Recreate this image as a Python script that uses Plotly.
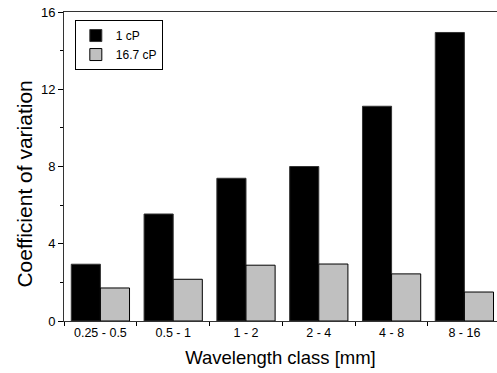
import plotly.graph_objects as go

categories = ["0.25 - 0.5", "0.5 - 1", "1 - 2", "2 - 4", "4 - 8", "8 - 16"]
cv_1cP = [2.94, 5.54, 7.39, 8.0, 11.12, 14.94]
cv_16_7cP = [1.71, 2.16, 2.89, 2.95, 2.44, 1.50]
y_ticks = [0, 4, 8, 12, 16]

FONT = "Liberation Sans, Arial, sans-serif"

fig = go.Figure()
fig.add_trace(go.Bar(
    x=categories, y=cv_1cP, name="1 cP",
    marker=dict(color="#000000", line=dict(color="#333333", width=1)),
))
fig.add_trace(go.Bar(
    x=categories, y=cv_16_7cP, name="16.7 cP",
    marker=dict(color="#c0c0c0", line=dict(color="#000000", width=1)),
))

fig.update_layout(
    width=497, height=373,
    margin=dict(l=64, r=0, t=12, b=52),
    paper_bgcolor="white", plot_bgcolor="white",
    barmode="group", bargap=0.2, bargroupgap=0,
    font=dict(family=FONT, size=12, color="#000"),
    showlegend=True,
    legend=dict(
        x=0.025, y=0.974, xanchor="left", yanchor="top",
        bordercolor="#000", borderwidth=1, bgcolor="white",
        font=dict(family=FONT, size=12, color="#000"),
        tracegroupgap=0, itemwidth=30,
    ),
    annotations=[dict(
        text="Coefficient of variation", textangle=-90,
        xref="paper", yref="paper", x=-0.0912, y=0.443,
        xanchor="center", yanchor="middle", showarrow=False,
        font=dict(family=FONT, size=21, color="#000"),
    )],
)

fig.update_xaxes(
    type="category", range=[-0.5, 5.448],
    tickson="boundaries", ticks="outside", ticklen=4, tickcolor="#000",
    showline=True, linecolor="#333", linewidth=1, mirror=True,
    showgrid=False, zeroline=False,
    tickfont=dict(family=FONT, size=12.5, color="#000"),
    title=dict(text="Wavelength class [mm]", font=dict(family=FONT, size=18.5, color="#000"), standoff=12),
)
fig.update_yaxes(
    range=[0, 16], tickvals=y_ticks, ticktext=[str(v) for v in y_ticks],
    ticks="outside", ticklen=5, tickcolor="#000",
    minor=dict(tickvals=[2, 6, 10, 14], ticks="outside", ticklen=3, tickcolor="#000"),
    showline=True, linecolor="#333", linewidth=1, mirror=False,
    showgrid=False, zeroline=False,
    tickfont=dict(family=FONT, size=13, color="#000"),
)

fig.write_html("out.html")
